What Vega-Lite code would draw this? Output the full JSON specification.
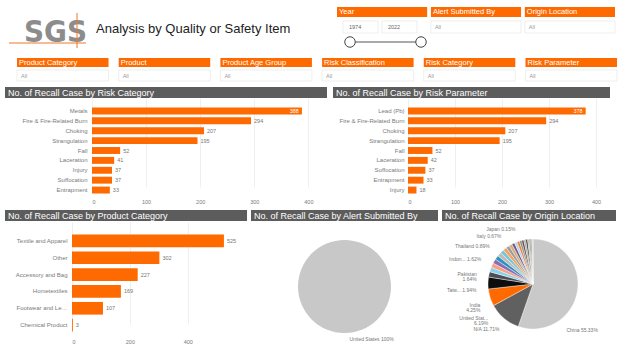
{
  "$schema": "https://vega.github.io/schema/vega-lite/v6.json",
  "background": "white",
  "padding": {"left": 5, "top": 0, "right": 0, "bottom": 0},
  "spacing": 5,
  "config": {
    "font": "Liberation Sans",
    "view": {"stroke": null},
    "axis": {"labelFont": "Liberation Sans", "labelColor": "#7a7a7a", "domain": false, "ticks": false, "title": null, "gridColor": "#ebebeb", "gridWidth": 0.8}
  },
  "datasets": {
    "riskcat": [
      {"cat": "Metals", "n": 388},
      {"cat": "Fire & Fire-Related Burn", "n": 294},
      {"cat": "Choking", "n": 207},
      {"cat": "Strangulation", "n": 195},
      {"cat": "Fall", "n": 52},
      {"cat": "Laceration", "n": 41},
      {"cat": "Injury", "n": 37},
      {"cat": "Suffocation", "n": 37},
      {"cat": "Entrapment", "n": 33}
    ],
    "riskparam": [
      {"p": "Lead (Pb)", "n": 378},
      {"p": "Fire & Fire-Related Burn", "n": 294},
      {"p": "Choking", "n": 207},
      {"p": "Strangulation", "n": 195},
      {"p": "Fall", "n": 52},
      {"p": "Laceration", "n": 42},
      {"p": "Suffocation", "n": 37},
      {"p": "Entrapment", "n": 33},
      {"p": "Injury", "n": 18}
    ],
    "product": [
      {"c": "Textile and Apparel", "n": 525},
      {"c": "Other", "n": 302},
      {"c": "Accessory and Bag", "n": 227},
      {"c": "Hometextiles", "n": 169},
      {"c": "Footwear and Leather Goods", "n": 107},
      {"c": "Chemical Product", "n": 3}
    ],
    "alert": [
      {"country": "United States", "pct": 100, "label": "United States 100%"}
    ],
    "origin": [
      {"country": "China", "pct": 55.33, "label": "China 55.33%"},
      {"country": "N/A", "pct": 11.71, "label": "N/A 11.71%"},
      {"country": "United States", "pct": 6.19, "label": "United Stat...\n6.19%"},
      {"country": "India", "pct": 4.25, "label": "India\n4.25%"},
      {"country": "Taiwan", "pct": 1.94, "label": "Taiw... 1.94%"},
      {"country": "Pakistan", "pct": 1.64, "label": "Pakistan\n1.64%"},
      {"country": "Indonesia", "pct": 1.62, "label": "Indon... 1.62%"},
      {"country": "Vietnam", "pct": 1.58},
      {"country": "Bangladesh", "pct": 1.51},
      {"country": "Hong Kong", "pct": 1.45},
      {"country": "Cambodia", "pct": 1.38},
      {"country": "Turkey", "pct": 1.30},
      {"country": "Sri Lanka", "pct": 1.21},
      {"country": "Korea", "pct": 1.12},
      {"country": "Mexico", "pct": 1.03},
      {"country": "Germany", "pct": 0.96},
      {"country": "Thailand", "pct": 0.89, "label": "Thailand 0.89%"},
      {"country": "Philippines", "pct": 0.82},
      {"country": "Canada", "pct": 0.76},
      {"country": "France", "pct": 0.71},
      {"country": "Italy", "pct": 0.67, "label": "Italy 0.67%"},
      {"country": "Malaysia", "pct": 0.58},
      {"country": "Portugal", "pct": 0.49},
      {"country": "Spain", "pct": 0.40},
      {"country": "United Kingdom", "pct": 0.31},
      {"country": "Japan", "pct": 0.15, "label": "Japan 0.15%"}
    ],
    "years": [{"year": 1974}, {"year": 2022}],
    "topfilters": [{"f": "Year"}, {"f": "Alert Submitted By"}, {"f": "Origin Location"}],
    "bottomfilters": [{"f": "Product Category"}, {"f": "Product"}, {"f": "Product Age Group"}, {"f": "Risk Classification"}, {"f": "Risk Category"}, {"f": "Risk Parameter"}]
  },
  "vconcat": [
    {
      "width": 625,
      "height": 81,
      "layer": [
        {
          "data": {"values": [{"t": "SGS"}]},
          "mark": {"type": "text", "align": "left", "baseline": "alphabetic", "font": "DejaVu Sans Condensed, Liberation Sans Narrow, Liberation Sans", "fontSize": 31, "fontWeight": "bold", "color": "#8c8c8c"},
          "encoding": {"text": {"field": "t"}, "x": {"value": 19}, "y": {"value": 42}}
        },
        {
          "data": {"values": [{"t": "line"}]},
          "mark": {"type": "rule", "color": "#f07828", "strokeWidth": 1},
          "encoding": {"x": {"value": 4}, "x2": {"value": 81}, "y": {"value": 43}}
        },
        {
          "data": {"values": [{"t": "line"}]},
          "mark": {"type": "rule", "color": "#f07828", "strokeWidth": 1},
          "encoding": {"x": {"value": 72}, "y": {"value": 13}, "y2": {"value": 48}}
        },
        {
          "data": {"values": [{"t": "Analysis by Quality or Safety Item"}]},
          "mark": {"type": "text", "align": "left", "baseline": "alphabetic", "fontSize": 13, "color": "#222222"},
          "encoding": {"text": {"field": "t"}, "x": {"value": 91}, "y": {"value": 33}}
        },
        {
          "data": {"name": "topfilters"},
          "encoding": {"x": {"field": "f", "type": "nominal", "sort": null, "axis": null, "scale": {"range": [332, 610], "paddingInner": 0.04, "paddingOuter": 0}}},
          "layer": [
            {"mark": {"type": "rect", "color": "#ff6a00"}, "encoding": {"y": {"value": 7}, "y2": {"value": 17}}},
            {"mark": {"type": "text", "align": "left", "baseline": "middle", "color": "white", "fontSize": 7.5, "dx": 2}, "encoding": {"x": {"field": "f", "type": "nominal", "sort": null, "bandPosition": 0}, "text": {"field": "f"}, "y": {"value": 12}}},
            {"transform": [{"filter": "datum.f != 'Year'"}], "mark": {"type": "rect", "fill": "white", "stroke": "#e2e2e2", "strokeWidth": 0.6}, "encoding": {"y": {"value": 21}, "y2": {"value": 33}}},
            {"transform": [{"filter": "datum.f != 'Year'"}], "mark": {"type": "text", "align": "left", "baseline": "middle", "color": "#9a9a9a", "fontSize": 5.5, "dx": 4}, "encoding": {"x": {"field": "f", "type": "nominal", "sort": null, "bandPosition": 0}, "text": {"value": "All"}, "y": {"value": 27}}}
          ]
        },
        {
          "data": {"name": "bottomfilters"},
          "encoding": {"x": {"field": "f", "type": "nominal", "sort": null, "axis": null, "scale": {"range": [12, 612], "paddingInner": 0.1, "paddingOuter": 0}}},
          "layer": [
            {"mark": {"type": "rect", "color": "#ff6a00"}, "encoding": {"y": {"value": 58}, "y2": {"value": 67}}},
            {"mark": {"type": "text", "align": "left", "baseline": "middle", "color": "white", "fontSize": 7.5, "dx": 2}, "encoding": {"x": {"field": "f", "type": "nominal", "sort": null, "bandPosition": 0}, "text": {"field": "f"}, "y": {"value": 62.5}}},
            {"mark": {"type": "rect", "fill": "white", "stroke": "#e2e2e2", "strokeWidth": 0.6}, "encoding": {"y": {"value": 70}, "y2": {"value": 81}}},
            {"mark": {"type": "text", "align": "left", "baseline": "middle", "color": "#9a9a9a", "fontSize": 5.5, "dx": 4}, "encoding": {"x": {"field": "f", "type": "nominal", "sort": null, "bandPosition": 0}, "text": {"value": "All"}, "y": {"value": 76}}}
          ]
        },
        {
          "data": {"name": "years"},
          "encoding": {"x": {"field": "year", "type": "ordinal", "axis": null, "scale": {"range": [338, 412], "paddingInner": 0.1, "paddingOuter": 0}}},
          "layer": [
            {"mark": {"type": "rect", "fill": "white", "stroke": "#e2e2e2", "strokeWidth": 0.6}, "encoding": {"y": {"value": 21}, "y2": {"value": 33}}},
            {"mark": {"type": "text", "align": "left", "baseline": "middle", "color": "#666666", "fontSize": 5.5, "dx": 6}, "encoding": {"x": {"field": "year", "type": "ordinal", "bandPosition": 0}, "text": {"field": "year", "type": "nominal"}, "y": {"value": 27}}}
          ]
        },
        {
          "data": {"name": "years"},
          "layer": [
            {"mark": {"type": "rule", "color": "#555555", "strokeWidth": 1}, "encoding": {"x": {"aggregate": "min", "field": "year", "type": "quantitative", "axis": null, "scale": {"domain": [1974, 2022], "range": [345, 416], "nice": false, "zero": false}}, "x2": {"aggregate": "max", "field": "year"}, "y": {"value": 42}}},
            {"mark": {"type": "point", "shape": "circle", "filled": true, "fill": "white", "stroke": "#444444", "strokeWidth": 1, "size": 110, "opacity": 1}, "encoding": {"x": {"field": "year", "type": "quantitative", "axis": null}, "y": {"value": 42}}}
          ]
        }
      ],
      "resolve": {"scale": {"x": "independent", "y": "independent"}}
    },
    {
      "hconcat": [
        {
          "vconcat": [
            {
              "width": 322, "height": 11,
              "data": {"values": [{"t": "No. of Recall Case by Risk Category"}]},
              "layer": [
                {"mark": {"type": "rect", "color": "#5c5c5c"}, "encoding": {}},
                {"mark": {"type": "text", "align": "left", "baseline": "middle", "color": "white", "fontSize": 9}, "encoding": {"text": {"field": "t"}, "x": {"value": 3}, "y": {"value": 6}}}
              ]
            },
            {
              "width": 322, "height": 97,
              "data": {"name": "riskcat"},
              "encoding": {
                "y": {"field": "cat", "type": "nominal", "sort": null, "scale": {"range": [8, 97], "paddingInner": 0.3, "paddingOuter": 0.15}, "axis": {"orient": "left", "offset": -87, "labelPadding": 5, "labelFontSize": 6}},
                "x": {"field": "n", "type": "quantitative", "scale": {"domain": [0, 427], "range": [87, 318], "nice": false}, "axis": {"values": [0, 100, 200, 300, 400], "grid": true, "labelFontSize": 5.5, "labelPadding": 4}}
              },
              "layer": [
                {"mark": {"type": "bar", "color": "#ff6a00"}},
                {"transform": [{"filter": "datum.n < 350"}], "mark": {"type": "text", "align": "left", "dx": 3, "fontSize": 5.5, "color": "#777777"}, "encoding": {"text": {"field": "n", "type": "quantitative"}}},
                {"transform": [{"filter": "datum.n >= 350"}], "mark": {"type": "text", "align": "right", "dx": -3, "fontSize": 5.5, "color": "white"}, "encoding": {"text": {"field": "n", "type": "quantitative"}}}
              ]
            }
          ],
          "spacing": 0,
          "bounds": "flush"
        },
        {
          "vconcat": [
            {
              "width": 277, "height": 11,
              "data": {"values": [{"t": "No. of Recall Case by Risk Parameter"}]},
              "layer": [
                {"mark": {"type": "rect", "color": "#5c5c5c"}, "encoding": {}},
                {"mark": {"type": "text", "align": "left", "baseline": "middle", "color": "white", "fontSize": 9}, "encoding": {"text": {"field": "t"}, "x": {"value": 3}, "y": {"value": 6}}}
              ]
            },
            {
              "width": 277, "height": 97,
              "data": {"name": "riskparam"},
              "encoding": {
                "y": {"field": "p", "type": "nominal", "sort": null, "scale": {"range": [8, 97], "paddingInner": 0.3, "paddingOuter": 0.15}, "axis": {"orient": "left", "offset": -75, "labelPadding": 4, "labelFontSize": 6}},
                "x": {"field": "n", "type": "quantitative", "scale": {"domain": [0, 408.5], "range": [75, 267], "nice": false}, "axis": {"values": [0, 100, 200, 300, 400], "grid": true, "labelFontSize": 5.5, "labelPadding": 4}}
              },
              "layer": [
                {"mark": {"type": "bar", "color": "#ff6a00"}},
                {"transform": [{"filter": "datum.n < 350"}], "mark": {"type": "text", "align": "left", "dx": 3, "fontSize": 5.5, "color": "#777777"}, "encoding": {"text": {"field": "n", "type": "quantitative"}}},
                {"transform": [{"filter": "datum.n >= 350"}], "mark": {"type": "text", "align": "right", "dx": -3, "fontSize": 5.5, "color": "white"}, "encoding": {"text": {"field": "n", "type": "quantitative"}}}
              ]
            }
          ],
          "spacing": 0,
          "bounds": "flush"
        }
      ],
      "spacing": 6
    },
    {
      "hconcat": [
        {
          "vconcat": [
            {
              "width": 242, "height": 11,
              "data": {"values": [{"t": "No. of Recall Case by Product Category"}]},
              "layer": [
                {"mark": {"type": "rect", "color": "#5c5c5c"}, "encoding": {}},
                {"mark": {"type": "text", "align": "left", "baseline": "middle", "color": "white", "fontSize": 9}, "encoding": {"text": {"field": "t"}, "x": {"value": 3}, "y": {"value": 6}}}
              ]
            },
            {
              "width": 242, "height": 114,
              "data": {"name": "product"},
              "encoding": {
                "y": {"field": "c", "type": "nominal", "sort": null, "scale": {"range": [11, 113], "paddingInner": 0.25, "paddingOuter": 0.15}, "axis": {"orient": "left", "offset": -67, "labelPadding": 5, "labelFontSize": 6, "labelLimit": 52}},
                "x": {"field": "n", "type": "quantitative", "scale": {"domain": [0, 584], "range": [67, 236], "nice": false}, "axis": {"values": [0, 200, 400], "grid": true, "labelFontSize": 5.5, "labelPadding": 4}}
              },
              "layer": [
                {"mark": {"type": "bar", "color": "#ff6a00"}},
                {"mark": {"type": "text", "align": "left", "dx": 3, "fontSize": 5.5, "color": "#777777"}, "encoding": {"text": {"field": "n", "type": "quantitative"}}}
              ]
            }
          ],
          "spacing": 0,
          "bounds": "flush"
        },
        {
          "vconcat": [
            {
              "width": 187, "height": 11,
              "data": {"values": [{"t": "No. of Recall Case by Alert Submitted By"}]},
              "layer": [
                {"mark": {"type": "rect", "color": "#5c5c5c"}, "encoding": {}},
                {"mark": {"type": "text", "align": "left", "baseline": "middle", "color": "white", "fontSize": 9}, "encoding": {"text": {"field": "t"}, "x": {"value": 3}, "y": {"value": 6}}}
              ]
            },
            {
              "width": 187, "height": 131,
              "data": {"name": "alert"},
              "layer": [
                {"mark": {"type": "arc", "outerRadius": 46.5, "color": "#c8c8c8"}, "encoding": {"theta": {"field": "pct", "type": "quantitative", "stack": true}}},
                {"mark": {"type": "text", "radius": 52, "align": "left", "baseline": "middle", "dx": 5, "fontSize": 5, "color": "#777777"}, "encoding": {"theta": {"field": "pct", "type": "quantitative", "stack": true}, "text": {"field": "label"}}}
              ]
            }
          ],
          "spacing": 0,
          "bounds": "flush"
        },
        {
          "vconcat": [
            {
              "width": 174, "height": 11,
              "data": {"values": [{"t": "No. of Recall Case by Origin Location"}]},
              "layer": [
                {"mark": {"type": "rect", "color": "#5c5c5c"}, "encoding": {}},
                {"mark": {"type": "text", "align": "left", "baseline": "middle", "color": "white", "fontSize": 9}, "encoding": {"text": {"field": "t"}, "x": {"value": 3}, "y": {"value": 6}}}
              ]
            },
            {
              "width": 182, "height": 126,
              "data": {"name": "origin"},
              "layer": [
                {
                  "mark": {"type": "arc", "outerRadius": 45, "stroke": "white", "strokeWidth": 0.4},
                  "encoding": {
                    "theta": {"field": "pct", "type": "quantitative", "stack": true},
                    "order": {"field": "pct", "type": "quantitative", "sort": "descending"},
                    "color": {"field": "country", "type": "nominal", "legend": null, "scale": {
                      "domain": ["China","N/A","United States","India","Taiwan","Pakistan","Indonesia","Vietnam","Bangladesh","Hong Kong","Cambodia","Turkey","Sri Lanka","Korea","Mexico","Germany","Thailand","Philippines","Canada","France","Italy","Malaysia","Portugal","Spain","United Kingdom","Japan"],
                      "range": ["#c9c9c9","#606060","#ff6a00","#0d0d0d","#4a4f55","#8fd0e8","#f4a284","#8a6cb3","#2f93bd","#bdbdbd","#78c6d6","#f5a05c","#9c9c9c","#d7ab80","#6f5b8c","#b9d6e2","#e0813f","#8b8b8b","#5b4739","#aaaaaa","#3b3b3b","#c6b79e","#7d7d7d","#56695b","#d2d2d2","#9aa6a0"]
                    }}
                  }
                },
                {
                  "transform": [{"filter": "isValid(datum.label) && datum.country != 'China'"}],
                  "mark": {"type": "text", "radius": 57, "align": "right", "baseline": "middle", "dy": -1, "fontSize": 5, "lineHeight": 5, "color": "#777777", "lineBreak": "\n"},
                  "encoding": {
                    "theta": {"aggregate": "count", "type": "quantitative", "stack": true, "scale": {"domain": [0, 9], "range": [3.6325, 6.1065]}},
                    "order": {"aggregate": "max", "field": "pct", "type": "quantitative", "sort": "descending"},
                    "detail": {"field": "country", "type": "nominal"},
                    "text": {"field": "label", "type": "nominal"}
                  }
                },
                {
                  "transform": [{"filter": "datum.country == 'China'"}],
                  "mark": {"type": "text", "radius": 57, "align": "left", "baseline": "middle", "fontSize": 5, "color": "#777777"},
                  "encoding": {
                    "theta": {"aggregate": "count", "type": "quantitative", "stack": true, "scale": {"domain": [0, 1], "range": [2.40, 2.63]}},
                    "detail": {"field": "country", "type": "nominal"},
                    "text": {"field": "label", "type": "nominal"}
                  }
                }
              ],
              "resolve": {"scale": {"theta": "independent"}}
            }
          ],
          "spacing": 0,
          "bounds": "flush"
        }
      ],
      "spacing": 4
    }
  ]
}
